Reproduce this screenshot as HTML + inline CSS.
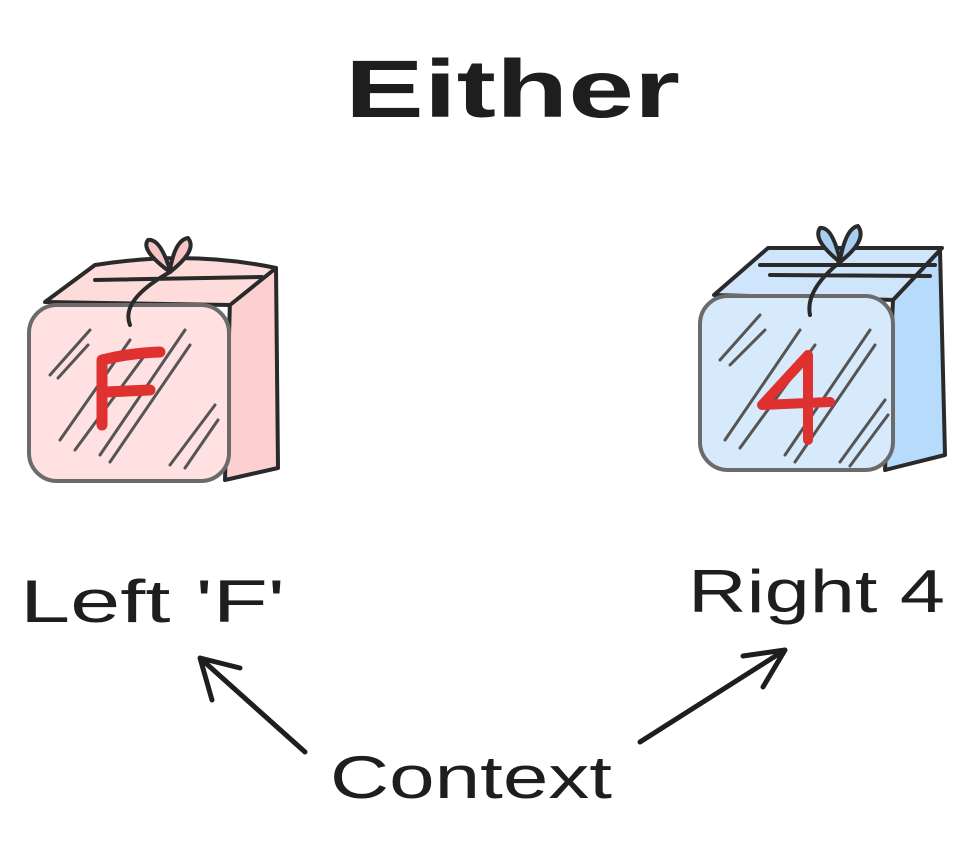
<!DOCTYPE html>
<html><head><meta charset="utf-8"><style>
html,body{margin:0;padding:0;background:#fff;}
svg{display:block}
text{font-family:"Liberation Sans",sans-serif;fill:#1e1e1e;}
</style></head><body>
<svg width="970" height="845" viewBox="0 0 970 845">
<text x="345" y="117" font-size="82" font-weight="bold" textLength="335" lengthAdjust="spacingAndGlyphs">Either</text>
<g stroke="#2a2a2a" stroke-width="4" stroke-linejoin="round" stroke-linecap="round">
<!-- left box -->
<path d="M230 300 L276 268 L278 468 L225 480 Z" fill="#fcd0d0"/>
<path d="M45 302 L95 265 Q190 250 276 268 L230 305 Z" fill="#ffdcdc"/>
<rect x="29" y="305" width="200" height="176" rx="28" fill="#ffe1e1" stroke="#6b6b6b"/>
<path d="M170 272 Q140 250 148 240 Q160 238 170 270 Q175 240 188 238 Q198 250 170 272 Z" fill="#f5c5c5"/>
<path d="M95 280 L262 277 M170 272 Q120 300 130 325" fill="none"/>
<g stroke="#555" stroke-width="3">
<path d="M50 375 L90 330 M58 378 L88 345 M60 440 L130 340 M75 450 L145 355 M100 455 L185 330 M110 462 L190 345 M170 465 L215 405 M185 468 L218 420"/>
</g>
<path d="M102 425 L102 360 Q130 353 160 352 M105 392 L150 390" stroke="#e03131" stroke-width="11" fill="none"/>
<!-- right box -->
<path d="M893 300 L940 250 L945 455 L885 470 Z" fill="#b7dbfb"/>
<path d="M714 295 L768 248 L942 248 L893 300 Z" fill="#cfe5fb"/>
<rect x="700" y="296" width="193" height="174" rx="28" fill="#d6eafc" stroke="#6b6b6b"/>
<path d="M840 262 Q812 240 820 228 Q832 226 840 260 Q846 228 858 226 Q868 240 840 262 Z" fill="#a9cdee"/>
<path d="M760 265 L935 265 M770 275 L930 276 M840 262 Q805 290 810 315" fill="none"/>
<g stroke="#555" stroke-width="3">
<path d="M720 360 L760 315 M730 365 L765 330 M725 440 L800 330 M740 448 L815 345 M785 455 L870 330 M795 462 L875 345 M840 462 L885 400 M850 466 L888 415"/>
</g>
<path d="M808 440 L808 355 L762 405 L830 402" stroke="#e03131" stroke-width="10" fill="none"/>
</g>
<text x="20" y="622" font-size="60" textLength="265" lengthAdjust="spacingAndGlyphs">Left 'F'</text>
<text x="688" y="612" font-size="60" textLength="257" lengthAdjust="spacingAndGlyphs">Right 4</text>
<text x="330" y="798" font-size="60" textLength="282" lengthAdjust="spacingAndGlyphs">Context</text>
<g stroke="#1e1e1e" stroke-width="5" stroke-linecap="round" fill="none">
<path d="M305 752 L200 658 M200 658 L212 700 M200 658 L240 668"/>
<path d="M640 742 L785 650 M785 650 L743 656 M785 650 L763 687"/>
</g>
</svg>
</body></html>
